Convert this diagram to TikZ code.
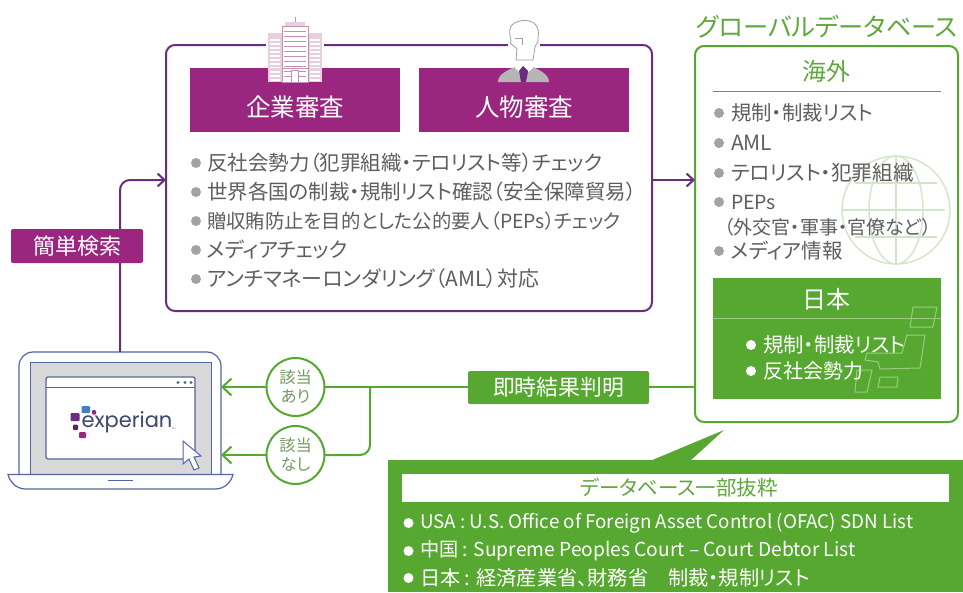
\documentclass[tikz,border=0pt]{standalone}
\usepackage{fontspec}
\setmainfont{Noto Sans CJK JP}[RawFeature=+palt]
\newfontfamily\logofont{Poppins}[Scale=1]
\usetikzlibrary{arrows.meta}
\definecolor{pur}{HTML}{6B2C7F}
\definecolor{mag}{HTML}{9B2680}
\definecolor{grn}{HTML}{56A830}
\definecolor{dgrn}{HTML}{5FA83C}
\definecolor{lgrn}{HTML}{D3E5C7}
\definecolor{mgrn}{HTML}{9BCC82}
\definecolor{txt}{HTML}{5E5E5E}
\definecolor{blt}{HTML}{A3A3A3}
\definecolor{navy}{HTML}{56659C}
\definecolor{lblue}{HTML}{3F7FC4}
\definecolor{pink}{HTML}{E8CFDD}
\definecolor{pink2}{HTML}{C58FB2}
\newcommand{\fsz}[1]{\fontsize{#1}{#1}\selectfont}
\tikzset{
 every node/.style={inner sep=0pt,outer sep=0pt},
 hdr/.style={fill=mag,draw=none,minimum width=210,minimum height=64},
 hdrt/.style={text=white,font=\fsz{24.5}},
 itm/.style={anchor=west,text=txt},
 itmw/.style={anchor=west,text=white},
 bul/.style={circle,fill=blt,minimum size=10},
 bulw/.style={circle,fill=white,minimum size=10},
 tag/.style={text=white,rounded corners=2},
 garrow/.style={draw=grn,line width=2,-{Straight Barb[length=9,width=17,line width=2]}},
 gline/.style={draw=grn,line width=2},
 parrow/.style={draw=pur,line width=2,-{Straight Barb[length=7,width=13,line width=2]}},
 ans/.style={circle,draw=grn,line width=2,fill=white,minimum size=58,text=mgrn!75!black,align=center,font=\fontsize{16.2}{19}\selectfont},
 lap/.style={draw=navy,line width=1.2},
}
\begin{document}
\begin{tikzpicture}[x=1pt,y=-1pt]
\useasboundingbox (0,0) rectangle (963,592);
% main purple box
\node[draw=pur,line width=2,rounded corners=9,fill=white,minimum width=486,minimum height=266] (mainbox) at (409,178) {};
% building icon
\fill[white] (266,20) rectangle (324,68);
\draw[pink2,line width=0.8] (295,17)--(295,23);
\foreach \xa/\xb in {268/282,308/322}{
  \fill[pink] (\xa,33) rectangle (\xb,82);
  \foreach \yy in {39,43,...,79}{\fill[white] (\xa+2,\yy) rectangle (\xb-2,\yy+1.6);}
}
\fill[pink] (285,22) rectangle (305,27);
\draw[pink2,fill=white,line width=1] (282,26) rectangle (308,82);
\foreach \yy in {31,36,...,66}{\draw[pink2,line width=1] (284,\yy)--(306,\yy);}
% headers
\node[hdr] (corp) at (295,100) {};
\node[hdr] (pers) at (524,100) {};
\node[hdrt] (corpt) at (295,107) {企業審査};
\node[hdrt] (perst) at (524,107) {人物審査};
% building base over header
\foreach \xa/\xb in {268/282,308/322}{
  \fill[pink] (\xa,68) rectangle (\xb,82);
  \foreach \yy in {71,75,79}{\fill[white] (\xa+2,\yy) rectangle (\xb-2,\yy+1.6);}
}
\draw[pink2,fill=white,line width=1] (282,68) rectangle (308,82);
\foreach \yy in {71,76}{\draw[pink2,line width=1] (284,\yy)--(306,\yy);}
\draw[pink2,fill=white,line width=1] (291,70) rectangle (298,82);
% person icon
\fill[white] (508,20) rectangle (540,60);
\draw[txt!60,fill=white,line width=0.8] (517,49) .. controls (513,44) and (509,45) .. (511,40) .. controls (508,30) and (509,22) .. (523,20.5) .. controls (535,20) and (540,27) .. (538,38) .. controls (539,43) and (536,43) .. (535,47) -- (533,60) -- (516,60) -- cycle;
\draw[txt!60,line width=0.8] (515,38)--(522,38)--(522,45);
\fill[blt!80] (498,82) .. controls (498,74) and (508,70) .. (517,66) -- (524,82) -- cycle;
\fill[blt!80] (549,82) .. controls (549,74) and (539,70) .. (531,66) -- (524,82) -- cycle;
\fill[white] (515,62) -- (533,62) -- (533,68) -- (526,74) -- (521,74) -- (515,68) -- cycle;
\fill[pur] (523,66) -- (528,71) -- (526,82) -- (521,82) -- (519,71) -- cycle;
% list main
\foreach \n/\yy/\s/\t in {a/163/20.5/反社会勢力（犯罪組織・テロリスト等）チェック,b/192/20.5/世界各国の制裁・規制リスト確認（安全保障貿易）,c/221/19.4/贈収賄防止を目的とした公的要人（PEPs）チェック,d/250/20.6/メディアチェック,e/279/20.9/アンチマネーロンダリング（AML）対応}{
 \node[bul] (bm\n) at (196,\yy) {};
 \node[itm,font=\fsz{\s}] (tm\n) at (207,\yy) {\t};
}
% global box
\node[text=dgrn,font=\fsz{25.2}] (gt) at (827,27) {グローバルデータベース};
\node[draw=grn,line width=2,rounded corners=9,fill=white,minimum width=263,minimum height=376] (gbox) at (826.5,234) {};
% globe
\begin{scope}[lgrn,line width=1.4]
 \node[circle,draw=lgrn,line width=1.4,minimum size=108] (globe) at (896,210) {};
 \draw (896,210) ellipse (27 and 54);
 \draw (896,156)--(896,264);
 \draw (855,183)--(937,183);
 \draw (842,210)--(945,210);
 \draw (855,237)--(937,237);
\end{scope}
\node[text=dgrn,font=\fsz{24}] (kai) at (826,71) {海外};
\coordinate (kl) at (713,91); \coordinate (kr) at (941,91);
\draw[grn,line width=0.8] (kl)--(kr);
\foreach \n/\yy/\s/\t in {a/113/20.4/規制・制裁リスト,b/143/21/AML,c/173/20.6/テロリスト・犯罪組織,d/202/19.5/PEPs,f/251/20.5/メディア情報}{
 \node[bul] (bg\n) at (719,\yy) {};
 \node[itm,font=\fsz{\s}] (tg\n) at (731,\yy) {\t};
}
\node[itm,font=\fsz{19}] (tge) at (724,227) {（外交官・軍事・官僚など）};
% japan
\node[fill=grn,minimum width=228,minimum height=121] (jp) at (827,338.5) {};
\begin{scope}[mgrn,line width=1]
 \draw (913,307)--(937,307)--(933,327)--(910,327)--cycle;
 \draw (907,335)--(925,335)--(920,368)--(880,369)--(878,362)--(865,360)--(867,353)--(902,353)--cycle;
 \draw (880,377)--(898,377)--(897,387)--(878,387)--cycle;
 \draw (857,370)--(872,370)--(867,392)--(855,392)--cycle;
\end{scope}
\node[text=white,font=\fsz{24}] (nih) at (826,299) {日本};
\coordinate (nl) at (713,318); \coordinate (nr) at (941,318);
\draw[mgrn,line width=0.8] (nl)--(nr);
\node[bulw] (bj1) at (751,345) {};
\node[itmw,font=\fsz{20.4}] (tj1) at (763,345) {規制・制裁リスト};
\node[bulw] (bj2) at (751,371) {};
\node[itmw,font=\fsz{20}] (tj2) at (763,371) {反社会勢力};
% laptop
\draw[lap,fill=white] (19,475) -- (19,366) arc (180:270:14) -- (207,352) arc (270:360:14) -- (221,475) -- cycle;
\node[draw=navy,line width=1.2,fill=black!15,minimum width=181,minimum height=113,anchor=north west] (screen) at (30.5,362.5) {};
\node[draw=navy,line width=1.2,rounded corners=2,fill=white,minimum width=149,minimum height=82,anchor=north west] (win) at (46,377) {};
\coordinate (wl) at (46,387.5); \coordinate (wr) at (195,387.5);
\draw[navy,line width=1] (wl)--(wr);
\foreach \xx in {178,185,191}{\fill[navy] (\xx,382.5) circle (1.6);}
\draw[lap,fill=white] (8,474.5) -- (233,474.5) .. controls (231,482) and (225,489) .. (215,489) -- (26,489) .. controls (16,489) and (10,482) .. (8,474.5) -- cycle;
\draw[navy,line width=1.5] (108,480.5)--(133,480.5);
% logo
\fill[rounded corners=1,pur] (70.5,413) rectangle (79.5,421);
\fill[rounded corners=1,lblue] (81.5,406) rectangle (90,413);
\fill[rounded corners=1,mag] (92,410) rectangle (96,414.5);
\fill[rounded corners=1,pur!80!black] (73,424.5) rectangle (78,430);
\fill[rounded corners=1,mag] (79,432) rectangle (86,438);
\node[anchor=west,text=navy!70!black,font=\logofont\fsz{21}] (logo) at (81.5,422) {experian};
\node[anchor=west,text=navy,font=\logofont\fsz{2.5}] (tm) at (172,429) {TM};
% cursor
\draw[navy,line width=1,fill=white] (183,441) -- (183,464) -- (189,459) -- (194,470) -- (199,468) -- (194,457) -- (201,456) -- cycle;
% connectors
\coordinate (lt) at (120,352);
\draw[parrow,rounded corners=10] (lt) -- (120,180) -- (mainbox.west |- 0,180);
\draw[parrow] (mainbox.east |- 0,180) -- (gbox.west |- 0,180);
\node[fill=mag,tag,minimum width=132,minimum height=34,font=\fsz{22}] (kantan) at (77,246) {簡単検索};
% result
\coordinate (fork) at (370,387);
\draw[gline] (gbox.west |- 0,387) -- (fork);
\node[ans] (ari) at (295.5,387) {該当\\あり};
\node[ans] (nashi) at (295.5,455) {該当\\なし};
\draw[garrow] (ari) -- (221,387);
\draw[garrow] (nashi) -- (221,455);
\draw[gline] (ari.east) -- (fork);
\draw[gline,rounded corners=10] (fork) -- (370,455) -- (nashi.east);
\node[fill=grn,tag,minimum width=181,minimum height=33,font=\fsz{21.8}] (sokuji) at (558.5,387.5) {即時結果判明};
% callout
\fill[grn] (650,461) -- (724,430) -- (690,461) -- cycle;
\node[fill=grn,minimum width=575,minimum height=132,anchor=north west] (call) at (388,460) {};
\node[fill=white,minimum width=547,minimum height=28,anchor=north west] (bar) at (402,473.5) {};
\node[text=dgrn,font=\fsz{20.5}] (bart) at (679,488) {データベース一部抜粋};
\foreach \n/\yy/\s/\t in {a/523/18.8/{USA : U.S. Office of Foreign Asset Control (OFAC) SDN List},b/551/19.2/{中国 : Supreme Peoples Court – Court Debtor List},c/578/20.2/{日本 : 経済産業省、財務省　制裁・規制リスト}}{
 \node[bulw] (bc\n) at (408.5,\yy) {};
 \node[itmw,font=\fsz{\s}] (tc\n) at (420,\yy) {\t};
}
\end{tikzpicture}
\end{document}
